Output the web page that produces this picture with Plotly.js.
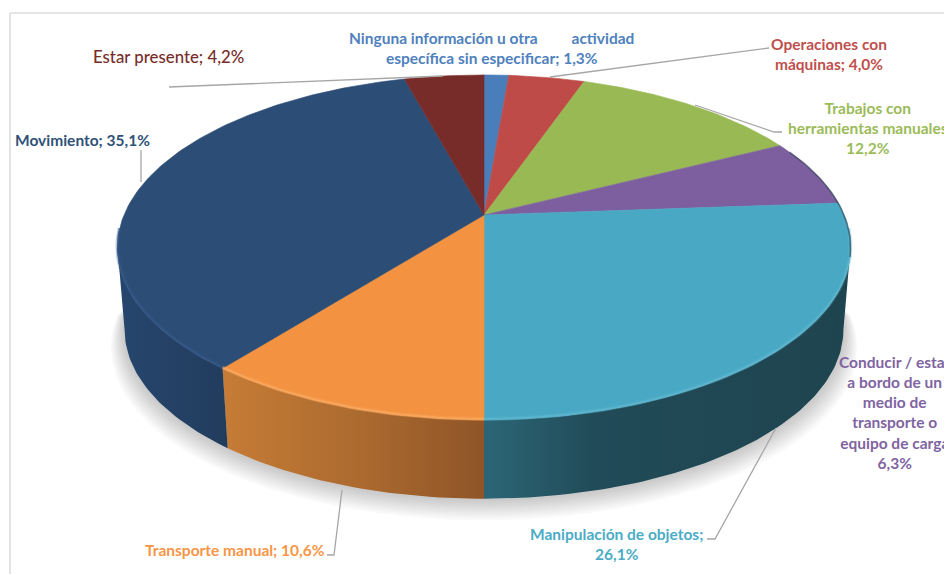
<!DOCTYPE html>
<html><head><meta charset="utf-8">
<script src="https://cdn.plot.ly/plotly-3.0.1.min.js"></script>
<style>html,body{margin:0;padding:0;background:#fff;overflow:hidden}#c{width:944px;height:574px}</style>
</head><body><div id="c"></div>
<script>
const categories = ["Ninguna información u otra actividad específica sin especificar","Operaciones con máquinas","Trabajos con herramientas manuales","Conducir / estar a bordo de un medio de transporte o equipo de carga","Manipulación de objetos","Transporte manual","Movimiento","Estar presente"];
const values = [1.3,4.0,12.2,6.3,26.1,10.6,35.1,4.2];
const labelTexts = [
 "Ninguna información u otra"+"\u00a0".repeat(9)+"actividad<br>específica sin especificar; 1,3%",
 "Operaciones con<br>máquinas; 4,0%",
 "Trabajos con<br>herramientas manuales<br>12,2%",
 "Conducir / estar<br>a bordo de un<br>medio de<br>transporte o<br>equipo de carga<br>6,3%",
 "Manipulación de objetos;<br>26,1%",
 "Transporte manual; 10,6%",
 "Movimiento; 35,1%",
 "Estar presente; 4,2%"];
const topColors = ["#4a7ebb","#be4b48","#98b954","#7d5fa0","#49a8c3","#f39240","#2c4d75","#772c2a"];
const textColors = ["#4f81bd","#c0504d","#9bbb59","#8064a2","#4bacc6","#f79646","#2f5178","#772c2a"];
const rimColors = [null,null,null,null,"#62b9d2","#fbad66","#36598a",null];
const wallScales = {
 4:[[0,"#2c6676"],[0.3,"#214b58"],[1,"#1e444f"]],
 5:[[0,"#c67c36"],[0.5,"#ad6b2f"],[1,"#8f5528"]],
 6:[[0,"#26466d"],[1,"#223c5d"]]
};
// label placement: x, y (middle of the block), font size
const labelPos = [[491,47.5,15.5],[829,53.5,15.5],[868,128,15.5],[895,412.5,15.5],[616,543.5,15.5],[235,550,15.5],[82,140,15.5],[168,56,16.8]];
const leaders = [
 [[169,443],[87,76]],
 [[141,141],[150,182]],
 [[550,759,769],[77,50,48]],
 [[695,774,782],[105,132,132]],
 [[342,334,327],[490,555,555]],
 [[776,715,707],[428,539,539]]
];

// perspective projection of the tilted disc
const CX=484, P=0.188;
function proj(deg, A, B, Y0){
  const r=deg*Math.PI/180, u=Math.sin(r), v=Math.cos(r), w=1+P*v;
  return [CX+A*u/w, Y0-B*v/w];
}
const topP = d=>proj(d,360,166.4,215);
const botP = d=>proj(d,353,163,298);
function arc(fn,a,b){ const xs=[],ys=[]; const n=Math.max(2,Math.ceil(Math.abs(b-a)));
  for(let i=0;i<=n;i++){const p=fn(a+(b-a)*i/n);xs.push(p[0]);ys.push(p[1]);} return [xs,ys]; }

const total=values.reduce((s,v)=>s+v,0);
let cum=0; const bounds=values.map(v=>{const a=cum/total*360;cum+=v;return [a,cum/total*360];});
const traces=[];

// soft shadow below the disc
for(let i=9;i>=1;i--){
  const f=d=>{const r=d*Math.PI/180,u=Math.sin(r),v=Math.cos(r),w=1+P*v;return [CX+(353+i*1.5)*u/w,298+i*1.9-(163+i*0.4)*v/w];};
  const [x,y]=arc(f,90,270);
  traces.push({type:"scatter",mode:"lines",x,y,fill:"toself",fillcolor:"rgba(0,0,0,0.022)",line:{width:0},hoverinfo:"skip",showlegend:false});
}
// side walls
const LO=100.8, HI=259.2;
bounds.forEach(([a,b],i)=>{
  const s=Math.max(a,LO), e=Math.min(b,HI);
  if(e<=s) return;
  const [x1,y1]=arc(topP,s,e), [x2,y2]=arc(botP,e,s);
  traces.push({type:"scatter",mode:"lines",x:x1.concat(x2),y:y1.concat(y2),fill:"toself",
    fillgradient:{type:"horizontal",colorscale:wallScales[i]},line:{width:0},hoverinfo:"skip",showlegend:false});
});
// top faces
bounds.forEach(([a,b],i)=>{
  const [x,y]=arc(topP,a,b);
  traces.push({type:"scatter",mode:"lines",name:categories[i],x:[CX].concat(x,[CX]),y:[215].concat(y,[215]),fill:"toself",
    fillcolor:topColors[i],line:{width:0.6,color:topColors[i]},hoverinfo:"name",showlegend:false});
});
// bevel highlight on the front rim
bounds.forEach(([a,b],i)=>{
  if(!rimColors[i]) return;
  const s=Math.max(a,LO-6), e=Math.min(b,HI+6);
  const [x,y]=arc(d=>{const p=topP(d);return [p[0],p[1]-1];},s,e);
  traces.push({type:"scatter",mode:"lines",x,y,line:{width:4,color:rimColors[i]},opacity:0.3,hoverinfo:"skip",showlegend:false});
  traces.push({type:"scatter",mode:"lines",x,y,line:{width:1.6,color:rimColors[i]},opacity:0.65,hoverinfo:"skip",showlegend:false});
});
// dark edge on the right shoulder
{const [x,y]=arc(topP,66,104);
 traces.push({type:"scatter",mode:"lines",x,y,line:{width:1.6,color:"#2a3f4f"},opacity:0.6,hoverinfo:"skip",showlegend:false});}
// leader lines
leaders.forEach(([x,y])=>traces.push({type:"scatter",mode:"lines",x,y,line:{width:1.3,color:"#a6a6a6"},hoverinfo:"skip",showlegend:false}));

const annotations=labelTexts.map((t,i)=>({xref:"x",yref:"y",x:labelPos[i][0],y:labelPos[i][1],text:t,showarrow:false,
  xanchor:"center",yanchor:"middle",align:"center",
  font:{family:"Lato, 'Open Sans', sans-serif",size:labelPos[i][2],color:textColors[i],weight:i===7?500:700}}));

const layout={width:944,height:574,margin:{l:0,r:0,t:0,b:0},paper_bgcolor:"#fff",plot_bgcolor:"#fff",showlegend:false,
 xaxis:{range:[0,944],visible:false,fixedrange:true},
 yaxis:{range:[574,0],visible:false,fixedrange:true},
 annotations,
 shapes:[
  {type:"line",xref:"x",yref:"y",x0:10,x1:10,y0:13,y1:574,line:{color:"#dcdcdc",width:1.6}},
  {type:"line",xref:"x",yref:"y",x0:10,x1:944,y0:13,y1:13,line:{color:"#dcdcdc",width:1.6}}
 ]};
Plotly.newPlot("c",traces,layout,{displayModeBar:false});
</script></body></html>
